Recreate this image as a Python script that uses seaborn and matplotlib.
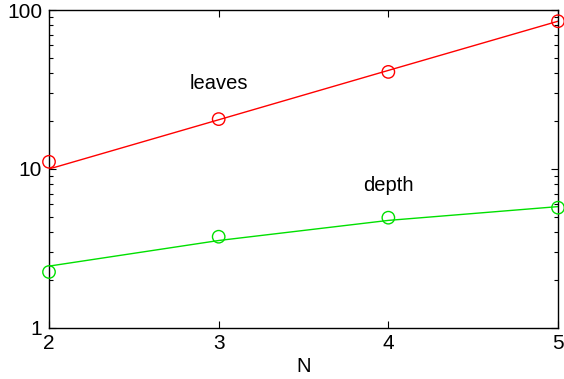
import matplotlib
matplotlib.use("Agg")
import matplotlib.pyplot as plt
import seaborn as sns
import pandas as pd
from matplotlib.ticker import LogLocator, NullFormatter, FixedLocator

# Measured values
n_values = [2, 3, 4, 5]
leaves = [11.1, 20.6, 40.8, 85.0]
depth = [2.25, 3.75, 4.94, 5.71]

# Fitted trend lines evaluated at each N
leaves_fit = [10.0, 20.4, 41.7, 85.0]
depth_fit = [2.45, 3.55, 4.75, 5.8]

x_ticks = [2, 3, 4, 5]
y_ticks = [1, 10, 100]
y_tick_labels = ["1", "10", "100"]

sns.set_style("ticks")
plt.rcParams["font.family"] = ["Liberation Sans", "DejaVu Sans"]
plt.rcParams["text.color"] = "black"

points = pd.DataFrame({"N": n_values * 2,
                       "value": leaves + depth,
                       "series": ["leaves"] * 4 + ["depth"] * 4})
fits = pd.DataFrame({"N": n_values * 2,
                     "value": leaves_fit + depth_fit,
                     "series": ["leaves"] * 4 + ["depth"] * 4})
palette = {"leaves": "#ff0000", "depth": "#00e000"}

fig = plt.figure(figsize=(5.64, 3.79), dpi=100)
ax = fig.add_axes([0.0869, 0.1346, 0.9025, 0.839])

sns.lineplot(data=fits, x="N", y="value", hue="series", palette=palette,
             linewidth=1.0, legend=False, ax=ax, sort=True)
sns.scatterplot(data=points, x="N", y="value", hue="series", palette=palette,
                marker="o", s=80, legend=False, ax=ax, zorder=5)
# open circles: edge colour from the series
for coll in ax.collections:
    fc = coll.get_facecolors()
    coll.set_edgecolors(fc)
    coll.set_facecolors("none")
    coll.set_linewidths(1.0)
    coll.set_clip_on(False)

ax.set_yscale("log")
ax.set_xlim(2, 5)
ax.set_ylim(1, 100)
ax.xaxis.set_major_locator(FixedLocator(x_ticks))
ax.set_yticks(y_ticks)
ax.set_yticklabels(y_tick_labels)
ax.yaxis.set_minor_locator(LogLocator(base=10, subs=range(2, 10)))
ax.yaxis.set_minor_formatter(NullFormatter())

ax.tick_params(which="both", direction="in", top=True, right=True,
               labelsize=15, colors="black", width=0.8)
ax.tick_params(axis="y", pad=5)
ax.tick_params(axis="x", pad=4)
ax.tick_params(which="major", length=5)
ax.tick_params(which="minor", length=3)
for sp in ax.spines.values():
    sp.set_visible(True)
    sp.set_color("black")
    sp.set_linewidth(1.0)

ax.set_xlabel("N", fontsize=14.5, labelpad=3, color="black")
ax.set_ylabel("")

ax.text(3.0, 34.5, "leaves", fontsize=14.5, ha="center", va="center", color="black")
ax.text(4.0, 7.9, "depth", fontsize=14.5, ha="center", va="center", color="black")

fig.savefig("out.png", dpi=100)
